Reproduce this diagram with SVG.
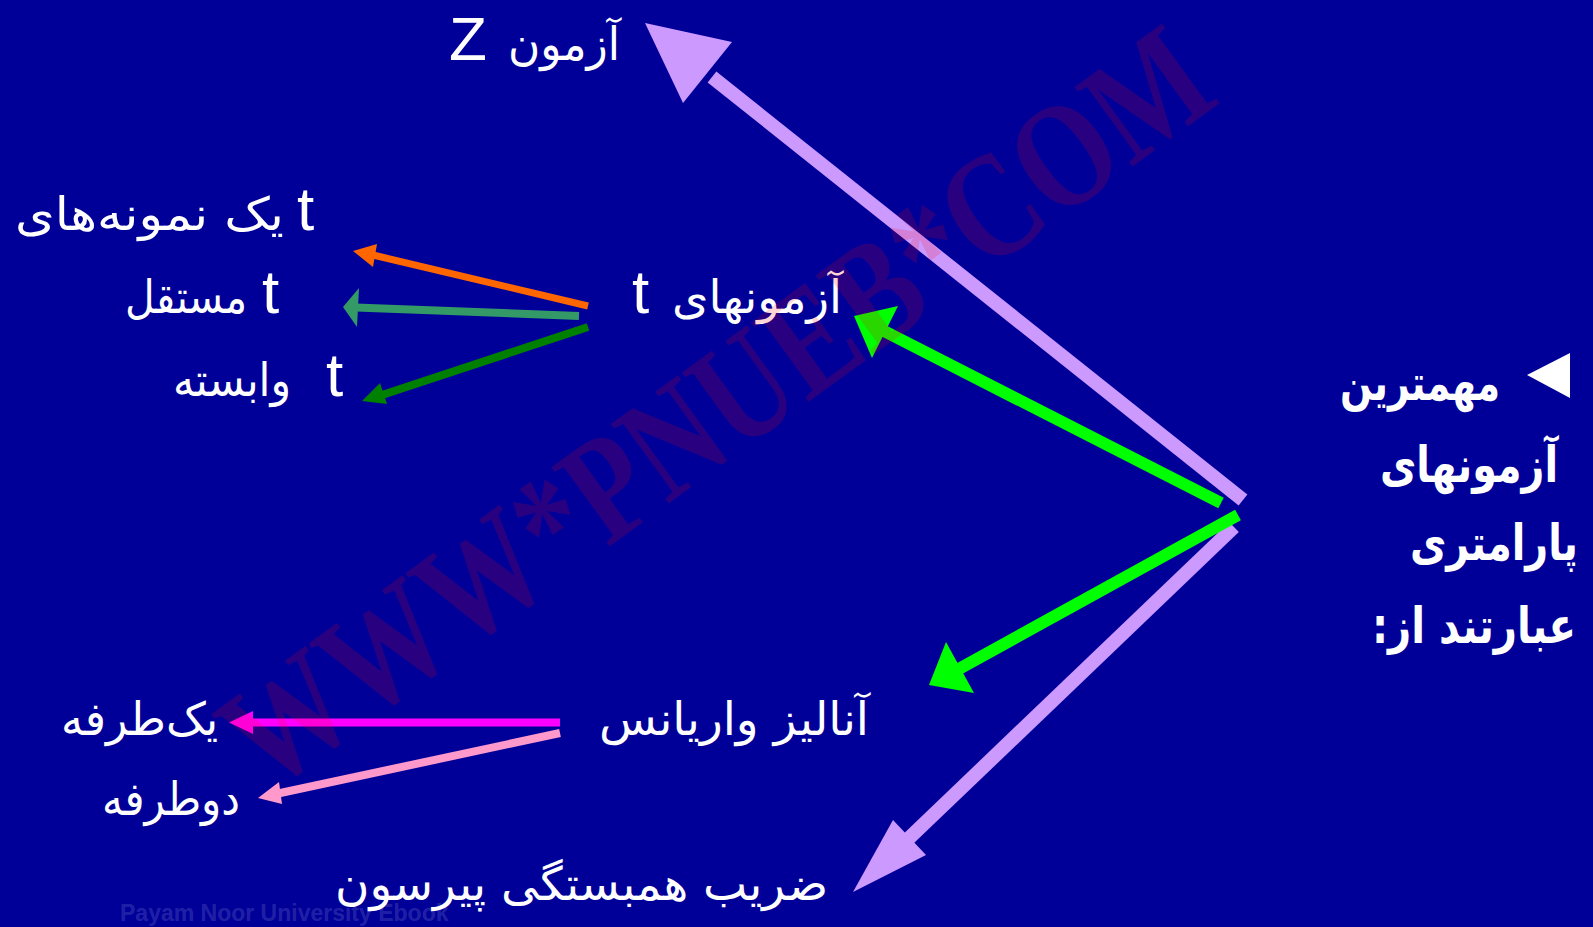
<svg xmlns="http://www.w3.org/2000/svg" width="1593" height="927" viewBox="0 0 1593 927">
<style>
.lat{font-family:"Liberation Sans",Arial,sans-serif;fill:#fff;font-size:62px}
.fa{font-family:"DejaVu Sans",sans-serif;fill:#fff;font-size:46px}
.fab{font-family:"DejaVu Sans",sans-serif;fill:#fff;font-size:38px;font-weight:bold}
.ln{fill:none;stroke-linecap:butt}
.lav{stroke:#CC99FF}.lavf{fill:#CC99FF}
.grn{stroke:#00FF00}.grnf{fill:#00FF00}
.org{stroke:#FF6600}.orgf{fill:#FF6600}
.sea{stroke:#339966}.seaf{fill:#339966}
.dgr{stroke:#008000}.dgrf{fill:#008000}
.mag{stroke:#FF00FF}.magf{fill:#FF00FF}
.pnk{stroke:#FF99CC}.pnkf{fill:#FF99CC}
.wm{font-family:"Liberation Serif","Times New Roman",serif;font-weight:bold;font-size:120px;fill:#FF0000;fill-opacity:0.16}
</style>
<rect x="0" y="0" width="1593" height="927" fill="#000099"/>

<g id="connectors">
  <line class="ln lav" stroke-width="14" x1="1243" y1="500" x2="712" y2="77"/>
  <polygon class="lavf" points="645,23 732,42 683,103"/>
  <line class="ln lav" stroke-width="14" x1="1234" y1="527" x2="905" y2="842"/>
  <polygon class="lavf" points="853,892 893,820 926,855"/>
  <line class="ln grn" stroke-width="12" x1="1221" y1="503" x2="882" y2="330"/>
  <polygon class="grnf" points="854,316 898,306 872,358"/>
  <line class="ln grn" stroke-width="12" x1="1238" y1="515" x2="957" y2="670"/>
  <polygon class="grnf" points="929,685 946,642 974,693"/>
  <line class="ln org" stroke-width="7" x1="588" y1="306" x2="373" y2="255"/>
  <polygon class="orgf" points="353,251 377,244 373,267"/>
  <line class="ln sea" stroke-width="8" x1="579" y1="316" x2="356" y2="307.5"/>
  <polygon class="seaf" points="343,307 359,288 357,327"/>
  <line class="ln dgr" stroke-width="8" x1="588" y1="327" x2="382" y2="395"/>
  <polygon class="dgrf" points="362,401 380,383 387,404"/>
  <line class="ln mag" stroke-width="8" x1="560" y1="722.5" x2="251" y2="722.5"/>
  <polygon class="magf" points="229,722.5 253,711 253,734"/>
  <line class="ln pnk" stroke-width="8" x1="560" y1="733" x2="278" y2="793.5"/>
  <polygon class="pnkf" points="258,798 279,782 282,804"/>
</g>

<g id="node-z">
  <text class="lat" x="449" y="60">Z</text>
  <text class="fa" x="508" y="60" textLength="112" lengthAdjust="spacingAndGlyphs">آزمون</text>
</g>
<g id="node-t-tests">
  <text class="lat" x="632" y="313">t</text>
  <text class="fa" x="672" y="313" textLength="170" lengthAdjust="spacingAndGlyphs">آزمونهای</text>
</g>
<g id="node-t-one">
  <text class="lat" x="297" y="230">t</text>
  <text class="fa" x="15" y="230" textLength="269" lengthAdjust="spacingAndGlyphs">یک نمونه‌های</text>
</g>
<g id="node-t-ind">
  <text class="lat" x="262" y="313">t</text>
  <text class="fa" x="125" y="313" textLength="122" lengthAdjust="spacingAndGlyphs">مستقل</text>
</g>
<g id="node-t-dep">
  <text class="lat" x="326" y="396">t</text>
  <text class="fa" x="173" y="396" textLength="118" lengthAdjust="spacingAndGlyphs">وابسته</text>
</g>
<g id="node-anova">
  <text class="fa" x="599" y="735" textLength="270" lengthAdjust="spacingAndGlyphs">آنالیز واریانس</text>
</g>
<g id="node-one-way">
  <text class="fa" x="61" y="735" textLength="157" lengthAdjust="spacingAndGlyphs">یک‌طرفه</text>
</g>
<g id="node-two-way">
  <text class="fa" x="102" y="815" textLength="138" lengthAdjust="spacingAndGlyphs">دوطرفه</text>
</g>
<g id="node-pearson">
  <text class="fa" x="335" y="900" textLength="493" lengthAdjust="spacingAndGlyphs">ضریب همبستگی پیرسون</text>
</g>
<g id="node-title">
  <polygon fill="#fff" points="1527,375 1570,353 1570,398"/>
  <g transform="scale(1,1.3)">
    <text class="fab" x="1340" y="307.7" textLength="160" lengthAdjust="spacingAndGlyphs">مهمترین</text>
    <text class="fab" x="1380" y="370.8" textLength="178" lengthAdjust="spacingAndGlyphs">آزمونهای</text>
    <text class="fab" x="1410" y="430.8" textLength="168" lengthAdjust="spacingAndGlyphs">پارامتری</text>
    <text class="fab" x="1372" y="494.6" textLength="204" lengthAdjust="spacingAndGlyphs">عبارتند از:&#x200F;</text>
  </g>
</g>

<text class="wm" text-anchor="middle" transform="translate(745,448) rotate(-36) scale(1,1.25)">WWW*PNUEB*COM</text>
<text x="120" y="921" font-family="Liberation Sans,Arial,sans-serif" font-weight="bold" font-size="23" fill="#ffffff" fill-opacity="0.15">Payam Noor University Ebook</text>
</svg>
